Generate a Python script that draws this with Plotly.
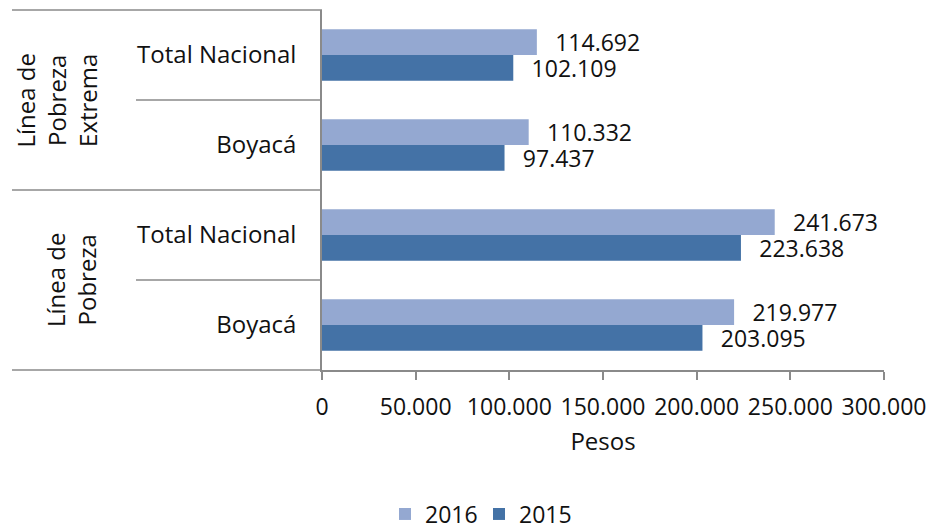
import plotly.graph_objects as go

# ---- data ----
group_labels = ["Línea de<br>Pobreza<br>Extrema", "Línea de<br>Pobreza"]
subcategories = ["Total Nacional", "Boyacá", "Total Nacional", "Boyacá"]
group_index = [0, 0, 1, 1]
values_2016 = [114692, 110332, 241673, 219977]
values_2015 = [102109, 97437, 223638, 203095]
x_ticks = [0, 50000, 100000, 150000, 200000, 250000, 300000]
series_names = ["2016", "2015"]
x_title = "Pesos"

# ---- styles ----
FONT = "Open Sans"
FS = 24
FS_SMALL = 23
TXT = "#111111"
C2016 = "#94A8D1"
C2015 = "#4472A6"
AXC = "#8a8a8a"

W, H = 930, 527
L = 322
T = 10
R = W - 884
B = H - 370
pw = W - L - R


def fmt(v):
    return f"{v:,}".replace(",", ".")


def px_to_paper_x(px):
    return (px - L) / pw


rows = list(range(len(subcategories)))
pad = "\u2002\u2009"

fig = go.Figure()
for name, vals, col in [(series_names[0], values_2016, C2016), (series_names[1], values_2015, C2015)]:
    fig.add_trace(go.Bar(
        name=name, x=vals, y=rows, orientation="h",
        marker=dict(color=col, line=dict(width=0)),
        text=[pad + fmt(v) for v in vals], textposition="outside",
        textfont=dict(family=FONT, size=FS_SMALL, color=TXT),
        constraintext="none", cliponaxis=False,
        hoverinfo="skip",
    ))

shapes = []
left_full = px_to_paper_x(12)
left_sub = px_to_paper_x(136)
line = dict(color=AXC, width=1.5)
shapes.append(dict(type="line", xref="paper", yref="paper", x0=left_full, x1=0, y0=1, y1=1, line=line))
shapes.append(dict(type="line", xref="paper", yref="paper", x0=left_full, x1=0, y0=0, y1=0, line=line))
for i in range(1, len(rows)):
    same_group = group_index[i] == group_index[i - 1]
    shapes.append(dict(type="line", xref="paper", yref="y",
                       x0=left_sub if same_group else left_full, x1=0,
                       y0=i - 0.5, y1=i - 0.5, line=line))

annotations = []
for g, lab in enumerate(group_labels):
    idx = [r for r, gi in zip(rows, group_index) if gi == g]
    annotations.append(dict(
        text=lab, xref="paper", yref="y", x=px_to_paper_x(105), y=sum(idx) / len(idx),
        xanchor="right", yanchor="middle", textangle=-90, showarrow=False,
        font=dict(family=FONT, size=FS, color=TXT), align="center",
    ))

fig.update_layout(
    width=W, height=H, autosize=False,
    margin=dict(l=L, r=R, t=T, b=B, autoexpand=False),
    paper_bgcolor="white", plot_bgcolor="white",
    font=dict(family=FONT, size=FS, color=TXT),
    barmode="group", bargap=0.43, bargroupgap=0,
    showlegend=True,
    legend=dict(orientation="h", xref="container", yref="container",
                x=385 / W, xanchor="left", y=(H - 514) / H, yanchor="middle",
                font=dict(family=FONT, size=FS_SMALL, color=TXT), traceorder="normal",
                itemwidth=30, entrywidth=49, entrywidthmode="pixels"),
    shapes=shapes, annotations=annotations,
    xaxis=dict(range=[0, 300000], tickvals=x_ticks, ticktext=[fmt(v) for v in x_ticks],
               automargin=False,
               showline=True, linecolor=AXC, linewidth=1.5,
               ticks="outside", ticklen=8, tickcolor=AXC, tickwidth=1.5,
               showgrid=False, zeroline=False,
               tickfont=dict(family=FONT, size=FS_SMALL, color=TXT), ticklabelstandoff=8,
               title=dict(text=x_title, font=dict(family=FONT, size=FS, color=TXT), standoff=12)),
    yaxis=dict(range=[len(rows) - 0.5, -0.5], tickvals=rows, ticktext=subcategories,
               automargin=False,
               showline=True, linecolor=AXC, linewidth=1.5, ticks="",
               showgrid=False, zeroline=False, ticklabelstandoff=19,
               tickfont=dict(family=FONT, size=FS, color=TXT)),
)

fig.write_html(
    "out.html",
    config={"displayModeBar": False},
    post_script="document.body.style.margin='0';document.body.style.overflow='hidden';",
)
